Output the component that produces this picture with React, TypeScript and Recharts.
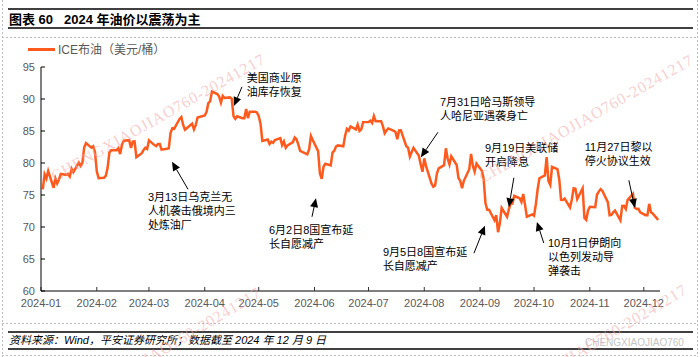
import React from "react";
import { LineChart, Line, XAxis, YAxis, ReferenceLine, ReferenceDot } from "recharts";

// ICE Brent daily settlement, 2024 (USD/bbl)
const dates = [
  "01-02", "01-03", "01-04", "01-05", "01-08", "01-09", "01-10", "01-11", "01-12", "01-15", "01-16",
  "01-17", "01-18", "01-19", "01-22", "01-23", "01-24", "01-25", "01-26", "01-29", "01-30", "01-31",
  "02-01", "02-02", "02-05", "02-06", "02-07", "02-08", "02-09", "02-12", "02-13", "02-14", "02-15",
  "02-16", "02-19", "02-20", "02-21", "02-22", "02-23", "02-26", "02-27", "02-28", "02-29",
  "03-01", "03-04", "03-05", "03-06", "03-07", "03-08", "03-11", "03-12", "03-13", "03-14", "03-15",
  "03-18", "03-19", "03-20", "03-21", "03-22", "03-25", "03-26", "03-27", "03-28",
  "04-01", "04-02", "04-03", "04-04", "04-05", "04-08", "04-09", "04-10", "04-11", "04-12", "04-15",
  "04-16", "04-17", "04-18", "04-19", "04-22", "04-23", "04-24", "04-25", "04-26", "04-29", "04-30",
  "05-01", "05-02", "05-03", "05-06", "05-07", "05-08", "05-09", "05-10", "05-13", "05-14", "05-15",
  "05-16", "05-17", "05-20", "05-21", "05-22", "05-23", "05-24", "05-28", "05-29", "05-30", "05-31",
  "06-03", "06-04", "06-05", "06-06", "06-07", "06-10", "06-11", "06-12", "06-13", "06-14", "06-17",
  "06-18", "06-19", "06-20", "06-21", "06-24", "06-25", "06-26", "06-27", "06-28",
  "07-01", "07-02", "07-03", "07-04", "07-05", "07-08", "07-09", "07-10", "07-11", "07-12", "07-15",
  "07-16", "07-17", "07-18", "07-19", "07-22", "07-23", "07-24", "07-25", "07-26", "07-29", "07-30", "07-31",
  "08-01", "08-02", "08-05", "08-06", "08-07", "08-08", "08-09", "08-12", "08-13", "08-14", "08-15",
  "08-16", "08-19", "08-20", "08-21", "08-22", "08-23", "08-26", "08-27", "08-28", "08-29", "08-30",
  "09-02", "09-03", "09-04", "09-05", "09-06", "09-09", "09-10", "09-11", "09-12", "09-13", "09-16",
  "09-17", "09-18", "09-19", "09-20", "09-23", "09-24", "09-25", "09-26", "09-27", "09-30",
  "10-01", "10-02", "10-03", "10-04", "10-07", "10-08", "10-09", "10-10", "10-11", "10-14", "10-15",
  "10-16", "10-17", "10-18", "10-21", "10-22", "10-23", "10-24", "10-25", "10-28", "10-29", "10-30", "10-31",
  "11-01", "11-04", "11-05", "11-06", "11-07", "11-08", "11-11", "11-12", "11-13", "11-14", "11-15",
  "11-18", "11-19", "11-20", "11-21", "11-22", "11-25", "11-26", "11-27", "11-28", "11-29",
  "12-02", "12-03", "12-04", "12-05", "12-06", "12-09",
];

const brent = [
  75.89, 78.25, 77.59, 78.76, 76.12, 77.59, 76.8, 77.41, 78.29, 78.15, 78.29,
  77.88, 79.1, 78.56, 80.06, 79.55, 80.04, 82.43, 83.1, 82.4, 82.6, 81.71,
  78.7, 77.63, 77.7, 77.99, 79.21, 81.63, 82.0, 82.0, 82.3, 81.4, 82.86,
  83.47, 83.56, 82.34, 83.33, 83.37, 80.9, 81.53, 82.05, 82.4, 82.2,
  83.55, 82.8, 82.64, 82.96, 82.96, 82.08, 82.21, 82.3, 84.73, 85.42, 85.34,
  86.89, 87.18, 85.95, 85.2, 85.43, 86.15, 85.25, 85.91, 87.1,
  87.42, 88.0, 89.35, 89.65, 91.17, 90.78, 90.38, 89.42, 90.48, 90.15, 90.25,
  90.02, 87.29, 86.91, 87.29, 87.0, 87.0, 88.42, 87.02, 88.01, 88.0, 87.9,
  87.33, 86.14, 83.44, 83.67, 82.96, 83.33, 83.16, 83.58, 83.88, 82.79, 83.36,
  82.38, 82.75, 83.27, 83.98, 83.71, 82.88, 81.9, 81.36, 82.12, 84.22, 83.6, 81.86,
  78.36, 77.52, 79.41, 79.87, 79.62, 81.63, 81.92, 82.6, 82.75, 82.62, 84.25,
  85.33, 85.07, 85.71, 85.24, 86.01, 85.01, 85.25, 86.39, 86.41,
  86.6, 86.24, 87.34, 86.54, 86.54, 85.75, 84.66, 85.08, 85.4, 85.03, 84.85,
  83.73, 85.08, 85.11, 82.63, 82.4, 81.01, 81.71, 82.37, 81.13, 79.78, 78.63, 80.72,
  79.52, 76.81, 76.3, 76.48, 78.33, 79.16, 79.66, 82.3, 80.69, 79.76, 81.04,
  79.68, 77.66, 77.2, 76.05, 77.22, 79.02, 81.43, 79.55, 78.65, 79.94, 78.8,
  77.52, 73.75, 72.7, 72.69, 71.06, 71.84, 69.19, 70.61, 72.97, 71.61, 72.75,
  73.7, 73.65, 74.88, 74.49, 73.9, 75.17, 73.46, 71.6, 71.98, 71.77,
  73.56, 75.9, 77.62, 78.05, 80.93, 77.18, 76.58, 79.4, 79.04, 77.46, 74.25,
  74.22, 74.45, 73.06, 74.29, 76.04, 75.96, 74.38, 76.05, 71.42, 71.12, 72.55, 73.16,
  73.1, 75.08, 75.53, 75.92, 75.63, 73.87, 71.83, 71.89, 72.28, 72.56, 71.04,
  73.3, 73.31, 72.81, 74.23, 75.17, 73.01, 72.81, 72.83, 72.28, 71.84,
  71.83, 73.62, 72.31, 72.09, 71.12, 72.14,
];

const monthStarts = ["01-01", "02-01", "03-01", "04-01", "05-01", "06-01", "07-01", "08-01", "09-01", "10-01", "11-01", "12-01"];
const monthLabels = ["2024-01", "2024-02", "2024-03", "2024-04", "2024-05", "2024-06", "2024-07", "2024-08", "2024-09", "2024-10", "2024-11", "2024-12"];
const yTicks = [60, 65, 70, 75, 80, 85, 90, 95];

// annotation text, anchored at (day of year, price) of the first line
const notes = [
  { lines: ["3月13日乌克兰无", "人机袭击俄境内三", "处炼油厂"], day: 59.4, value: 74.7 },
  { lines: ["美国商业原", "油库存恢复"], day: 114.4, value: 93.3 },
  { lines: ["6月2日8国宣布延", "长自愿减产"], day: 126.7, value: 69.5 },
  { lines: ["7月31日哈马斯领导", "人哈尼亚遇袭身亡"], day: 221.7, value: 89.5 },
  { lines: ["9月19日美联储", "开启降息"], day: 246.7, value: 82.3 },
  { lines: ["11月27日黎以", "停火协议生效"], day: 302.2, value: 82.5 },
  { lines: ["9月5日8国宣布延", "长自愿减产"], day: 190, value: 66.1 },
  { lines: ["10月1日伊朗向", "以色列发动导", "弹袭击"], day: 281.7, value: 67.5 },
];

const arrows = [
  { from: [81.7, 75.9], to: [72.8, 80.2] },
  { from: [111.7, 91.9], to: [107.2, 88.9] },
  { from: [150.6, 71.6], to: [152.8, 74.5] },
  { from: [220.6, 84.8], to: [211.1, 80.9] },
  { from: [262.8, 77.7], to: [260.0, 73.1] },
  { from: [326.7, 77.3], to: [330.0, 73.0] },
  { from: [240.6, 65.9], to: [246.7, 70.2] },
  { from: [279.4, 67.5], to: [275.6, 70.8] },
];

const dayOf = (md: string) => {
  const [m, d] = md.split("-").map(Number);
  return (Date.UTC(2024, m - 1, d) - Date.UTC(2024, 0, 1)) / 86400000;
};

const data = dates.map((d, i) => ({ day: dayOf(d), price: brent[i] }));
const xTicks = monthStarts.map(dayOf);

const FONT = "'Liberation Sans', Arial, 'Noto Sans CJK SC', sans-serif";
const ORANGE = "#FF5A1E";

const ArrowShape = (props: any) => {
  const { x1, y1, x2, y2 } = props;
  const a = Math.atan2(y2 - y1, x2 - x1);
  const len = 9;
  const w = 4;
  const bx = x2 - len * Math.cos(a);
  const by = y2 - len * Math.sin(a);
  const px = -Math.sin(a) * w;
  const py = Math.cos(a) * w;
  return (
    <g>
      <line x1={x1} y1={y1} x2={bx} y2={by} stroke="#000" strokeWidth={1} />
      <polygon points={`${x2},${y2} ${bx + px},${by + py} ${bx - px},${by - py}`} fill="#000" />
    </g>
  );
};

const noteShape = (lines: string[]) => (props: any) => {
  const { cx, cy } = props;
  return (
    <text x={cx} y={cy + 4} fontSize={11} fill="#000" fontFamily={FONT}>
      {lines.map((l, i) => (
        <tspan key={i} x={cx} dy={i === 0 ? 0 : 14}>
          {l}
        </tspan>
      ))}
    </text>
  );
};

const Watermark = ({ x, y, angle }: { x: number; y: number; angle: number }) => (
  <text
    x={x}
    y={y}
    transform={`rotate(${angle} ${x} ${y})`}
    fontSize={16}
    letterSpacing={0.8}
    fontFamily="'Liberation Serif', serif"
    fill="#f3a5a5"
    fillOpacity={0.55}
  >
    CHENGXIAOJIAO760-20241217
  </text>
);

export default function App() {
  return (
    <div style={{ position: "absolute", left: 0, top: 0, width: 700, height: 357, background: "#fff", fontFamily: FONT }}>
      <svg width={700} height={357} style={{ position: "absolute", left: 0, top: 0 }}>
        <g stroke="#bdbdbd" strokeDasharray="2 2" strokeWidth={1}>
          <line x1={2.5} y1={0} x2={2.5} y2={357} />
          <line x1={697.5} y1={0} x2={697.5} y2={357} />
          <line x1={2} y1={37.5} x2={698} y2={37.5} />
          <line x1={2} y1={323.5} x2={698} y2={323.5} />
          <line x1={2} y1={355.5} x2={698} y2={355.5} />
        </g>
        <g stroke="#000" strokeWidth={1.5}>
          <line x1={8} y1={9} x2={693} y2={9} />
          <line x1={8} y1={28} x2={693} y2={28} />
          <line x1={8} y1={332} x2={693} y2={332} />
          <line x1={8} y1={349} x2={693} y2={349} />
        </g>
        <text x={9} y={23.5} fontSize={13} fontWeight="bold" fill="#000">图表 60</text>
        <text x={64} y={23.5} fontSize={13} fontWeight="bold" fill="#000">2024 年油价以震荡为主</text>
        <line x1={28} y1={49.5} x2={55} y2={49.5} stroke={ORANGE} strokeWidth={3} />
        <text x={58} y={54} fontSize={12} fill="#595959">ICE布油（美元/桶）</text>
        <text x={9} y={344} fontSize={11} fontStyle="italic" fill="#000">
          资料来源：Wind，平安证券研究所；数据截至 2024 年 12 月 9 日
        </text>
        <text x={585} y={346} fontSize={10} fill="#c4c4c4">CHENGXIAOJIAO760</text>
      </svg>
      <div style={{ position: "absolute", left: 0, top: 0 }}>
        <LineChart width={700} height={357} data={data} margin={{ top: 67, right: 40, bottom: 46, left: 1 }}>
          <XAxis
            dataKey="day"
            type="number"
            domain={[0, 344]}
            ticks={xTicks}
            tickFormatter={(v: number) => monthLabels[xTicks.indexOf(v)] ?? ""}
            interval={0}
            height={20}
            tickSize={-4}
            tickMargin={12}
            axisLine={{ stroke: "#7f7f7f", strokeWidth: 2 }}
            tickLine={{ stroke: "#333" }}
            tick={{ fontSize: 11, fill: "#595959", fontFamily: FONT }}
            allowDataOverflow
          />
          <YAxis
            type="number"
            domain={[60, 95]}
            ticks={yTicks}
            interval={0}
            width={40}
            tickSize={-4}
            tickMargin={10}
            axisLine={{ stroke: "#000" }}
            tickLine={{ stroke: "#000" }}
            tick={{ fontSize: 11, fill: "#595959", fontFamily: FONT }}
            allowDataOverflow
          />
          <Line
            type="linear"
            dataKey="price"
            stroke={ORANGE}
            strokeWidth={2.5}
            dot={false}
            isAnimationActive={false}
          />
          {arrows.map((a, i) => (
            <ReferenceLine
              key={`a${i}`}
              segment={[
                { x: a.from[0], y: a.from[1] },
                { x: a.to[0], y: a.to[1] },
              ]}
              shape={ArrowShape}
              ifOverflow="visible"
            />
          ))}
          {notes.map((n, i) => (
            <ReferenceDot
              key={`n${i}`}
              x={n.day}
              y={n.value}
              r={0}
              shape={noteShape(n.lines)}
              ifOverflow="visible"
            />
          ))}
        </LineChart>
      </div>
      <svg width={700} height={357} style={{ position: "absolute", left: 0, top: 0, pointerEvents: "none" }}>
        <Watermark x={55} y={182} angle={-29.5} />
        <Watermark x={483} y={183} angle={-29.5} />
        <Watermark x={54} y={421} angle={-31} />
        <Watermark x={480} y={418} angle={-31} />
      </svg>
    </div>
  );
}
